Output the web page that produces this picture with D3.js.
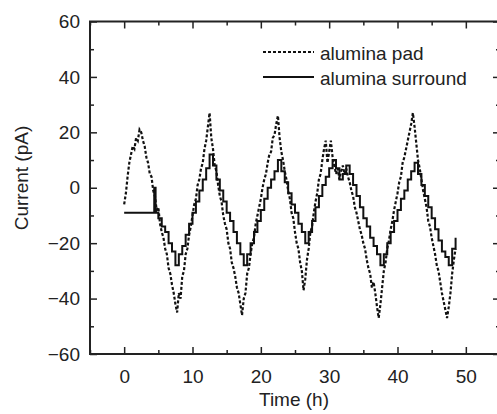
<!DOCTYPE html>
<html>
<head>
<meta charset="utf-8">
<script src="https://cdn.jsdelivr.net/npm/d3@7"></script>
<style>
    body { margin: 0; background: #fff; }
    svg { display: block; font-family: "Liberation Sans", Arial, sans-serif; }
</style>
</head>
<body>
<div id="chart"></div>
<script>
// Series data (time in h, current in pA)
const seriesNames = ['alumina pad', 'alumina surround'];

const padTime = [
    0, 0.25, 0.5, 0.75, 1, 1.25, 1.5, 1.75, 2, 2.25, 2.5, 2.75, 3, 3.25, 3.5, 3.75,
    4, 4.25, 4.5, 4.75, 5, 5.25, 5.5, 5.75, 6, 6.25, 6.5, 6.75, 7, 7.25, 7.5, 7.75,
    8, 8.25, 8.5, 8.75, 9, 9.25, 9.5, 9.75, 10, 10.25, 10.5, 10.75, 11, 11.25, 11.5, 11.75,
    12, 12.25, 12.5, 12.75, 13, 13.25, 13.5, 13.75, 14, 14.25, 14.5, 14.75, 15, 15.25, 15.5, 15.75,
    16, 16.25, 16.5, 16.75, 17, 17.25, 17.5, 17.75, 18, 18.25, 18.5, 18.75, 19, 19.25, 19.5, 19.75,
    20, 20.25, 20.5, 20.75, 21, 21.25, 21.5, 21.75, 22, 22.25, 22.5, 22.75, 23, 23.25, 23.5, 23.75,
    24, 24.25, 24.5, 24.75, 25, 25.25, 25.5, 25.75, 26, 26.25, 26.5, 26.75, 27, 27.25, 27.5, 27.75,
    28, 28.25, 28.5, 28.75, 29, 29.25, 29.5, 29.75, 30, 30.25, 30.5, 30.75, 31, 31.25, 31.5, 31.75,
    32, 32.25, 32.5, 32.75, 33, 33.25, 33.5, 33.75, 34, 34.25, 34.5, 34.75, 35, 35.25, 35.5, 35.75,
    36, 36.25, 36.5, 36.75, 37, 37.25, 37.5, 37.75, 38, 38.25, 38.5, 38.75, 39, 39.25, 39.5, 39.75,
    40, 40.25, 40.5, 40.75, 41, 41.25, 41.5, 41.75, 42, 42.25, 42.5, 42.75, 43, 43.25, 43.5, 43.75,
    44, 44.25, 44.5, 44.75, 45, 45.25, 45.5, 45.75, 46, 46.25, 46.5, 46.75, 47, 47.25, 47.5, 47.75,
    48, 48.25, 48.5
];
const padCurrent = [
    -6, -2, 4, 9, 12, 15, 14, 18, 17, 21, 20, 17, 15, 11, 9, 5,
    4, -1, -3, -8, -7, -13, -16, -18, -22, -24, -29, -31, -35, -38, -42, -45,
    -38, -40, -32, -30, -24, -22, -17, -14, -10, -6, -4, 1, 3, 7, 9, 14,
    17, 22, 27, 18, 14, 8, 6, 1, -3, -5, -10, -13, -15, -20, -22, -27,
    -29, -32, -36, -38, -42, -46, -40, -38, -31, -29, -24, -20, -18, -13, -10, -7,
    -4, 0, 3, 5, 9, 12, 13, 18, 19, 23, 26, 18, 13, 10, 6, 3,
    -1, -4, -9, -11, -16, -20, -22, -27, -30, -37, -33, -26, -22, -16, -14, -9,
    -5, -2, 3, 5, 10, 14, 17, 9, 13, 17, 11, 8, 5, 7, 3, 6,
    8, 5, 7, 4, 2, -1, -3, -7, -9, -12, -15, -17, -20, -22, -26, -29,
    -31, -36, -34, -38, -43, -47, -42, -36, -30, -27, -22, -19, -15, -12, -8, -5,
    -2, 2, 4, 9, 11, 14, 17, 20, 23, 27, 22, 16, 10, 7, 3, -1,
    -4, -7, -12, -14, -18, -21, -24, -28, -30, -34, -38, -41, -44, -47, -43, -38,
    -31, -26, -22
];

const surroundTime = [
    0, 4.4, 4.6, 5, 5.5, 6, 6.5, 7, 7.5, 8, 8.5, 9, 9.5, 10, 10.5, 11, 11.5,
    12, 12.5, 13, 13.5, 14, 14.5, 15, 15.5, 16, 16.5, 17, 17.5, 18, 18.5, 19, 19.5,
    20, 20.5, 21, 21.5, 22, 22.5, 23, 23.5, 24, 24.5, 25, 25.5, 26, 26.5, 27, 27.5,
    28, 28.5, 29, 29.5, 30, 30.5, 31, 31.5, 32, 32.5, 33, 33.5, 34, 34.5, 35, 35.5,
    36, 36.5, 37, 37.5, 38, 38.5, 39, 39.5, 40, 40.5, 41, 41.5, 42, 42.5, 43, 43.5,
    44, 44.5, 45, 45.5, 46, 46.5, 47, 47.5, 48, 48.5
];
const surroundCurrent = [
    -9, 0, -9, -11, -14, -16, -20, -23, -28, -24, -21, -17, -13, -9, -5, -1, 3,
    7, 12, 8, 3, -1, -5, -9, -12, -16, -20, -24, -28, -24, -20, -16, -12,
    -8, -4, 0, 3, 6, 10, 6, 2, -2, -6, -9, -13, -16, -20, -16, -12,
    -7, -3, 1, 4, 7, 10, 7, 3, 5, 8, 5, 1, -3, -7, -11, -14,
    -18, -21, -24, -28, -24, -20, -16, -12, -8, -4, -1, 3, 6, 9, 5, 1,
    -3, -7, -11, -15, -19, -23, -25, -28, -22, -18
];

// Axis ticks
const xMajorTicks = [0, 10, 20, 30, 40, 50];
const xMinorTicks = [-5, 5, 15, 25, 35, 45, 55];
const yMajorTicks = [-60, -40, -20, 0, 20, 40, 60];
const yMinorTicks = [-50, -30, -10, 10, 30, 50];

const config = {
    width: 497,
    height: 414,
    left: 90,
    right: 500,
    top: 21.5,
    bottom: 354,
    fontSize: 19
};

const svg = d3.select('#chart')
    .append('svg')
    .attr('width', config.width)
    .attr('height', config.height);

const x = d3.scaleLinear().domain([-5, 55]).range([config.left, config.right]);
const y = d3.scaleLinear().domain([-60, 60]).range([config.bottom, config.top]);

// Clip for data lines
svg.append('clipPath').attr('id', 'plot-clip')
    .append('rect')
    .attr('x', config.left)
    .attr('y', config.top)
    .attr('width', config.right - config.left)
    .attr('height', config.bottom - config.top);

// Lines
const padData = padTime.map((t, i) => ({ t, v: padCurrent[i] }));
const surroundData = surroundTime.map((t, i) => ({ t, v: surroundCurrent[i] }));

const padLine = d3.line().x(d => x(d.t)).y(d => y(d.v));
const surroundLine = d3.line().x(d => x(d.t)).y(d => y(d.v)).curve(d3.curveStepAfter);

const plot = svg.append('g').attr('clip-path', 'url(#plot-clip)');

plot.append('path')
    .datum(surroundData)
    .attr('fill', 'none')
    .attr('stroke', '#111')
    .attr('stroke-width', 2)
    .attr('d', surroundLine);

plot.append('path')
    .datum(padData)
    .attr('fill', 'none')
    .attr('stroke', '#111')
    .attr('stroke-width', 2.2)
    .attr('stroke-dasharray', '3,2')
    .attr('d', padLine);

// Axes: ticks pointing inward on all four sides
const tickStyle = g => {
    g.select('.domain').remove();
    g.selectAll('line').attr('stroke', '#222').attr('stroke-width', 1.5);
    g.selectAll('text')
        .attr('fill', '#222')
        .style('font-size', config.fontSize + 'px')
        .style('font-family', '"Liberation Sans", Arial, sans-serif');
};

// bottom
svg.append('g')
    .attr('transform', `translate(0,${config.bottom})`)
    .call(d3.axisBottom(x).tickValues(xMajorTicks).tickSize(-7).tickPadding(16).tickFormat(d3.format('d')))
    .call(tickStyle);
svg.append('g')
    .attr('transform', `translate(0,${config.bottom})`)
    .call(d3.axisBottom(x).tickValues(xMinorTicks).tickSize(-4).tickFormat(''))
    .call(tickStyle);

// top
svg.append('g')
    .attr('transform', `translate(0,${config.top})`)
    .call(d3.axisTop(x).tickValues(xMajorTicks).tickSize(-7).tickFormat(''))
    .call(tickStyle);
svg.append('g')
    .attr('transform', `translate(0,${config.top})`)
    .call(d3.axisTop(x).tickValues(xMinorTicks).tickSize(-4).tickFormat(''))
    .call(tickStyle);

// left
svg.append('g')
    .attr('transform', `translate(${config.left},0)`)
    .call(d3.axisLeft(y).tickValues(yMajorTicks).tickSize(-7).tickPadding(10).tickFormat(d3.format('d')))
    .call(tickStyle);
svg.append('g')
    .attr('transform', `translate(${config.left},0)`)
    .call(d3.axisLeft(y).tickValues(yMinorTicks).tickSize(-4).tickFormat(''))
    .call(tickStyle);

// right
svg.append('g')
    .attr('transform', `translate(${config.right},0)`)
    .call(d3.axisRight(y).tickValues(yMajorTicks).tickSize(-7).tickFormat(''))
    .call(tickStyle);
svg.append('g')
    .attr('transform', `translate(${config.right},0)`)
    .call(d3.axisRight(y).tickValues(yMinorTicks).tickSize(-4).tickFormat(''))
    .call(tickStyle);

// Frame
svg.append('rect')
    .attr('x', config.left)
    .attr('y', config.top)
    .attr('width', config.right - config.left)
    .attr('height', config.bottom - config.top)
    .attr('fill', 'none')
    .attr('stroke', '#222')
    .attr('stroke-width', 2);

// Axis titles
svg.append('text')
    .attr('x', 294)
    .attr('y', 406)
    .attr('text-anchor', 'middle')
    .attr('fill', '#222')
    .style('font-size', config.fontSize + 'px')
    .text('Time (h)');

svg.append('text')
    .attr('transform', 'translate(28,178) rotate(-90)')
    .attr('text-anchor', 'middle')
    .attr('fill', '#222')
    .style('font-size', config.fontSize + 'px')
    .text('Current (pA)');

// Legend
const legend = svg.append('g');
seriesNames.forEach((name, i) => {
    const ly = 52 + i * 25;
    legend.append('line')
        .attr('x1', 263)
        .attr('x2', 314)
        .attr('y1', ly)
        .attr('y2', ly)
        .attr('stroke', '#111')
        .attr('stroke-width', 2)
        .attr('stroke-dasharray', i === 0 ? '3,2' : null);
    legend.append('text')
        .attr('x', 320)
        .attr('y', ly + 7.5)
        .attr('fill', '#222')
        .style('font-size', config.fontSize + 'px')
        .text(name);
});
</script>
</body>
</html>
